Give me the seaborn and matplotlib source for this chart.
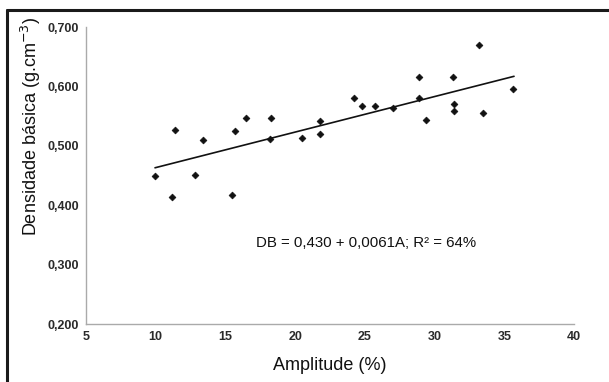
import numpy as np
import pandas as pd
import matplotlib
matplotlib.use('Agg')
import matplotlib.pyplot as plt
import seaborn as sns
from matplotlib.lines import Line2D

# values
amplitude = [9.95, 11.2, 11.4, 12.8, 13.4, 15.5, 15.7, 16.5, 18.2, 18.3,
             20.5, 21.8, 21.8, 24.2, 24.8, 25.7, 27.0, 28.9, 28.9, 29.4,
             31.3, 31.4, 31.4, 33.2, 33.5, 35.6]
densidade = [0.450, 0.414, 0.526, 0.451, 0.510, 0.418, 0.525, 0.546, 0.511, 0.547,
             0.513, 0.520, 0.542, 0.581, 0.567, 0.567, 0.564, 0.616, 0.581, 0.543,
             0.616, 0.570, 0.558, 0.670, 0.555, 0.596]

# fitted line as drawn in the figure
fit_x = [9.95, 35.7]
fit_y = [0.463, 0.617]

x_ticks = [5, 10, 15, 20, 25, 30, 35, 40]
y_ticks = [0.2, 0.3, 0.4, 0.5, 0.6, 0.7]
y_labels = ['0,200', '0,300', '0,400', '0,500', '0,600', '0,700']

sns.set_style('white')
plt.rcParams['font.family'] = ['Liberation Sans', 'DejaVu Sans']

df = pd.DataFrame({'amplitude': amplitude, 'densidade': densidade})
fit = pd.DataFrame({'x': fit_x, 'y': fit_y})

fig = plt.figure(figsize=(6.09, 3.82), dpi=100)
ax = fig.add_axes([0.1412, 0.1518, 0.8013, 0.7775])

sns.lineplot(data=fit, x='x', y='y', ax=ax, color='#111111', linewidth=1.2)
sns.scatterplot(data=df, x='amplitude', y='densidade', ax=ax, color='#111111',
                marker='D', s=12, edgecolor='#111111', linewidth=0.5, zorder=3)

ax.set_xlim(5, 40)
ax.set_ylim(0.2, 0.7)
ax.set_xticks(x_ticks)
ax.set_xticklabels([str(t) for t in x_ticks])
ax.set_yticks(y_ticks)
ax.set_yticklabels(y_labels)
ax.tick_params(axis='both', labelsize=9, labelcolor='#2a2a2a', length=3,
               direction='out', width=0.8, pad=2, color='#aaaaaa')
for lab in ax.get_xticklabels() + ax.get_yticklabels():
    lab.set_fontweight('bold')

for side in ['top', 'right']:
    ax.spines[side].set_visible(False)
for side in ['left', 'bottom']:
    ax.spines[side].set_color('#aaaaaa')
    ax.spines[side].set_linewidth(1.0)

ax.set_xlabel('Amplitude (%)', fontsize=13, color='#111111', labelpad=10)
ax.set_ylabel('Densidade básica (g.cm$^{-3}$)', fontsize=13, color='#111111')
ax.yaxis.set_label_coords(-0.088, 0.665)

ax.text(25.1, 0.337, 'DB = 0,430 + 0,0061A; R² = 64%', fontsize=10.8,
        ha='center', va='center', color='#111111')

# frame lines (top and left) around the figure
fig.add_artist(Line2D([7 / 609, 7 / 609], [0, 1 - 10 / 382], transform=fig.transFigure,
                      color='#1a1a1a', linewidth=2.2))
fig.add_artist(Line2D([7 / 609, 1], [1 - 10 / 382, 1 - 10 / 382], transform=fig.transFigure,
                      color='#1a1a1a', linewidth=2.2))

fig.savefig('out.png', dpi=100)
